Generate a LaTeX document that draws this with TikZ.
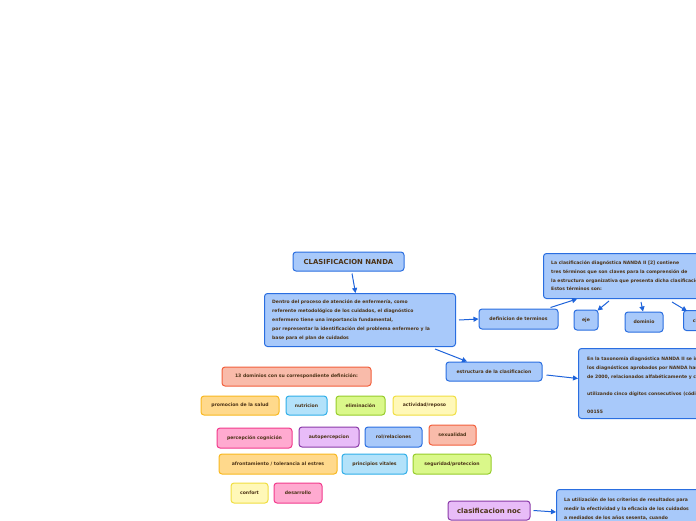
\documentclass[tikz,border=0pt]{standalone}
\usepackage{fontspec}
\setmainfont{DejaVu Sans}
\usetikzlibrary{arrows.meta,calc}
\definecolor{txt}{HTML}{4B3216}
\definecolor{arrc}{HTML}{1E63DA}
\definecolor{blF}{HTML}{A8C9FA}\definecolor{blD}{HTML}{2A6EE0}
\definecolor{saF}{HTML}{F9BBAA}\definecolor{saD}{HTML}{F2603C}
\definecolor{orF}{HTML}{FFD98C}\definecolor{orD}{HTML}{F8B820}
\definecolor{cyF}{HTML}{B3E2FA}\definecolor{cyD}{HTML}{2EAEE8}
\definecolor{liF}{HTML}{DAF88A}\definecolor{liD}{HTML}{96CC2A}
\definecolor{yeF}{HTML}{FFF8B8}\definecolor{yeD}{HTML}{F0DE40}
\definecolor{piF}{HTML}{FFAAD0}\definecolor{piD}{HTML}{F23A8C}
\definecolor{puF}{HTML}{E8BCF8}\definecolor{puD}{HTML}{8A3AA8}
\tikzset{
  bx/.style={rounded corners=3pt, line width=1pt, inner sep=0pt,
    font=\bfseries\fontsize{4.6}{8.8}\selectfont, text=txt},
  cbl/.style={fill=blF, draw=blD},
  csa/.style={fill=saF, draw=saD},
  cor/.style={fill=orF, draw=orD},
  ccy/.style={fill=cyF, draw=cyD},
  cli/.style={fill=liF, draw=liD},
  cye/.style={fill=yeF, draw=yeD},
  cpi/.style={fill=piF, draw=piD},
  cpu/.style={fill=puF, draw=puD},
  para/.style={anchor=base west, inner sep=0pt, text=txt,
    font=\bfseries\fontsize{4.55}{8.8}\selectfont},
  arr/.style={draw=arrc, line width=1pt, -{Triangle[length=5pt,width=5pt]}},
}
\newcommand{\pbox}[1]{\parbox[t]{300pt}{\raggedright #1}}
\begin{document}
\begin{tikzpicture}[x=1pt,y=-1pt]
\useasboundingbox (0,0) rectangle (696,520);
\clip (0,0) rectangle (696,520);
% title and main
\node[bx,cbl,minimum width=111pt,minimum height=19pt] (title) at (348.5,261.5)
  {\fontsize{6.9}{7}\selectfont CLASIFICACION NANDA};
\node[bx,cbl,minimum width=191pt,minimum height=53pt,anchor=north west] (main) at (264,293) {};
\node[para] (maintext) at (272,303.8) {\pbox{Dentro del proceso de atención de enfermería, como\\
referente metodológico de los cuidados, el diagnóstico\\
enfermero tiene una importancia fundamental,\\
por representar la identificación del problema enfermero y la\\
base para el plan de cuidados}};
% definicion branch
\node[bx,cbl,minimum width=79pt,minimum height=20pt] (def) at (518.5,319) {definicion de terminos};
\node[bx,cbl,minimum width=200pt,minimum height=45pt,anchor=north west] (n2) at (543,253) {};
\node[para] (n2text) at (551,264.4) {\pbox{La clasificación diagnóstica NANDA II [2] contiene\\
tres términos que son claves para la comprensión de\\
la estructura organizativa que presenta dicha clasificación.\\
Estos términos son:}};
\node[bx,cbl,minimum width=24pt,minimum height=20pt] (eje) at (586,320) {eje};
\node[bx,cbl,minimum width=38pt,minimum height=20pt] (dom) at (644,322) {dominio};
\node[bx,cbl,minimum width=32pt,minimum height=20pt,anchor=north west] (clase) at (683,310) {clase};
% estructura branch
\node[bx,cbl,minimum width=96pt,minimum height=19pt] (estr) at (494,371.5) {estructura de la clasificacion};
\node[bx,cbl,minimum width=200pt,minimum height=70pt,anchor=north west] (tax) at (578,348) {};
\node[para] (taxtext) at (587,360.5) {\pbox{En la taxonomía diagnóstica NANDA II se incluyen\\
los diagnósticos aprobados por NANDA hasta abril\\
de 2000, relacionados alfabéticamente y codificados\\[8.8pt]
utilizando cinco dígitos consecutivos (códigos)\\[8.8pt]
00155}};
% dominios
\node[bx,csa,minimum width=149pt,minimum height=19pt] (dom13) at (296.5,376.5) {13 dominios con su correspondiente definición:};
\node[bx,cor,minimum width=78pt,minimum height=19pt] (d1) at (240,405.5) {promocion de la salud};
\node[bx,ccy,minimum width=41pt,minimum height=19pt] (d2) at (306.5,405.5) {nutricion};
\node[bx,cli,minimum width=49pt,minimum height=19pt] (d3) at (360.5,405.5) {eliminación};
\node[bx,cye,minimum width=63pt,minimum height=19pt] (d4) at (424.5,405.5) {actividad/reposo};
\node[bx,cpi,minimum width=75pt,minimum height=20pt] (d5) at (254.5,438) {percepción cognición};
\node[bx,cpu,minimum width=60pt,minimum height=20pt] (d6) at (329,437) {autopercepcion};
\node[bx,cbl,minimum width=57pt,minimum height=20pt] (d7) at (393.5,437) {rol/relaciones};
\node[bx,csa,minimum width=47pt,minimum height=20pt] (d8) at (452.5,435) {sexualidad};
\node[bx,cor,minimum width=118pt,minimum height=20pt] (d9) at (278,464) {afrontamiento / tolerancia al estres};
\node[bx,ccy,minimum width=65pt,minimum height=20pt] (d10) at (374.5,464) {principios vitales};
\node[bx,cli,minimum width=78pt,minimum height=20pt] (d11) at (452,464) {seguridad/proteccion};
\node[bx,cye,minimum width=37pt,minimum height=20pt] (d12) at (249.5,493) {confort};
\node[bx,cpi,minimum width=48pt,minimum height=20pt] (d13) at (298,493) {desarrollo};
% noc
\node[bx,cpu,minimum width=82pt,minimum height=19pt] (noc) at (489,510.5) {\fontsize{6.9}{7}\selectfont clasificacion noc};
\node[bx,cbl,minimum width=200pt,minimum height=60pt,anchor=north west] (nocbox) at (556,489) {};
\node[para] (noctext) at (564,501.5) {\pbox{La utilización de los criterios de resultados para\\
medir la efectividad y la eficacia de los cuidados\\
a mediados de los años sesenta, cuando}};
% connectors
\draw[arr] ([xshift=3.5pt,yshift=-2pt]title.south) -- ([xshift=-4.5pt]main.north);
\draw[arr] ([xshift=3pt]main.east) -- (def.west);
\draw[arr] ([xshift=-8pt,yshift=1pt]def.north east) -- ([xshift=34pt]n2.south west);
\draw[arr] ([xshift=66pt,yshift=-2pt]n2.south west) -- ([xshift=-1pt,yshift=-1pt]eje.north east);
\draw[arr] ([xshift=98pt,yshift=-3pt]n2.south west) -- ([xshift=-1pt]dom.north);
\draw[arr] ([xshift=129pt,yshift=-3pt]n2.south west) -- ([xshift=4pt,yshift=-1pt]clase.north west);
\draw[arr] ([xshift=-21pt,yshift=-2pt]main.south east) -- ([xshift=-27pt]estr.north);
\draw[arr] ([xshift=4pt,yshift=-3.5pt]estr.east) -- ([yshift=5pt]tax.west);
\draw[arr] ([xshift=3pt]noc.east) -- ([yshift=-23pt]nocbox.north west);
\end{tikzpicture}
\end{document}
